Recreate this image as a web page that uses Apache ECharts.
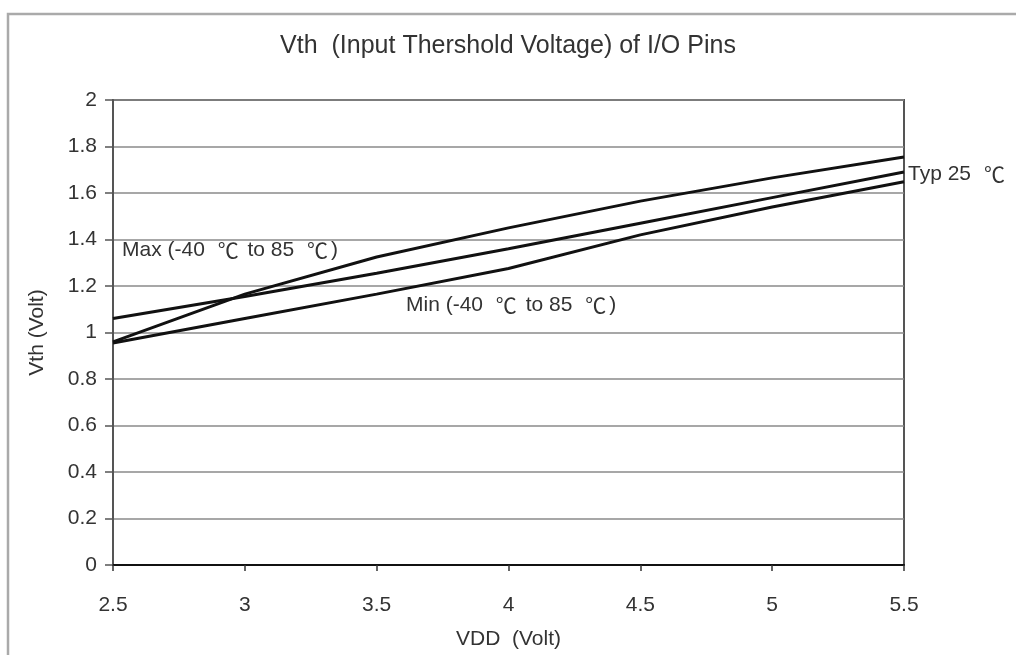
<!DOCTYPE html>
<html>
<head>
<meta charset="utf-8">
<script src="https://cdn.jsdelivr.net/npm/echarts@6/dist/echarts.min.js"></script>
<style>html,body{margin:0;padding:0;background:#fff;}#c{width:1016px;height:655px;}</style>
</head>
<body>
<div id="c"></div>
<script>
var vdd = [2.5, 3, 3.5, 4, 4.5, 5, 5.5];
var maxVth = [0.96, 1.165, 1.325, 1.45, 1.565, 1.665, 1.755];
var typVth = [1.06, 1.155, 1.255, 1.36, 1.47, 1.58, 1.69];
var minVth = [0.955, 1.06, 1.165, 1.275, 1.42, 1.54, 1.648];
var titleText = 'Vth  (Input Thershold Voltage) of I/O Pins';
var xName = 'VDD  (Volt)';
var yName = 'Vth (Volt)';
var maxLabel = 'Max (-40 \u2103 to 85 \u2103)';
var minLabel = 'Min (-40 \u2103 to 85 \u2103)';
var typLabel = 'Typ 25 \u2103';

function pairs(ys) { return vdd.map(function (x, i) { return [x, ys[i]]; }); }

var FONT = '"Liberation Sans", Arial, sans-serif';
var CJK = '"Noto Sans CJK SC", "Liberation Sans", sans-serif';
var TXT = '#333';

function richText(s) {
  var parts = s.split('\u2103');
  var out = '';
  parts.forEach(function (p, i) {
    if (p) out += '{a|' + p + '}';
    if (i < parts.length - 1) out += '{c|\u2103}';
  });
  return out;
}
var richStyle = {
  a: {fontFamily: FONT, fontSize: 21, fill: TXT, color: TXT},
  c: {fontFamily: CJK, fontSize: 21, fill: TXT, color: TXT, padding: [0, 3, 0, 7]}
};

var chart = echarts.init(document.getElementById('c'), null, {renderer: 'canvas'});
var lineStyle = {color: '#111', width: 3};
chart.setOption({
  animation: false,
  backgroundColor: '#fff',
  title: {
    text: titleText, left: 'center', top: 29,
    textStyle: {fontFamily: FONT, fontSize: 25, fontWeight: 'normal', color: TXT}
  },
  grid: {left: 113, right: 112, top: 100, bottom: 83, show: true, borderColor: '#555', borderWidth: 2},
  xAxis: {
    type: 'value', min: 2.5, max: 5.5, interval: 0.5,
    name: xName, nameLocation: 'middle', nameGap: 64,
    nameTextStyle: {fontFamily: FONT, fontSize: 21, color: TXT},
    axisLine: {show: true, lineStyle: {color: '#111', width: 2}},
    axisTick: {show: true, length: 6, lineStyle: {color: '#333', width: 1.5}},
    axisLabel: {fontFamily: FONT, fontSize: 21, color: TXT, margin: 30},
    splitLine: {show: false}
  },
  yAxis: {
    type: 'value', min: 0, max: 2, interval: 0.2,
    name: yName, nameLocation: 'middle', nameGap: 65, nameRotate: 90,
    nameTextStyle: {fontFamily: FONT, fontSize: 21, color: TXT},
    axisLine: {show: true, lineStyle: {color: '#555', width: 2}},
    axisTick: {show: true, length: 8, lineStyle: {color: '#555', width: 1.5}},
    axisLabel: {fontFamily: FONT, fontSize: 21, color: TXT, margin: 16,
      formatter: function (v) { return String(Math.round(v * 10) / 10); }},
    splitLine: {show: true, lineStyle: {color: '#8a8a8a', width: 1.5}}
  },
  series: [
    {name: 'Max', type: 'line', data: pairs(maxVth), symbol: 'none', lineStyle: lineStyle, z: 5},
    {name: 'Typ', type: 'line', data: pairs(typVth), symbol: 'none', lineStyle: lineStyle, z: 5},
    {name: 'Min', type: 'line', data: pairs(minVth), symbol: 'none', lineStyle: lineStyle, z: 5}
  ],
  graphic: [
    {type: 'rect', shape: {x: 8, y: 14, width: 1100, height: 700}, style: {fill: 'none', stroke: '#aaa', lineWidth: 2.5}, z: -10},
    {type: 'text', left: 122, top: 240, style: {text: richText(maxLabel), rich: richStyle}},
    {type: 'text', left: 406, top: 295, style: {text: richText(minLabel), rich: richStyle}},
    {type: 'text', left: 908, top: 164, style: {text: richText(typLabel), rich: richStyle}}
  ]
});
</script>
</body>
</html>
